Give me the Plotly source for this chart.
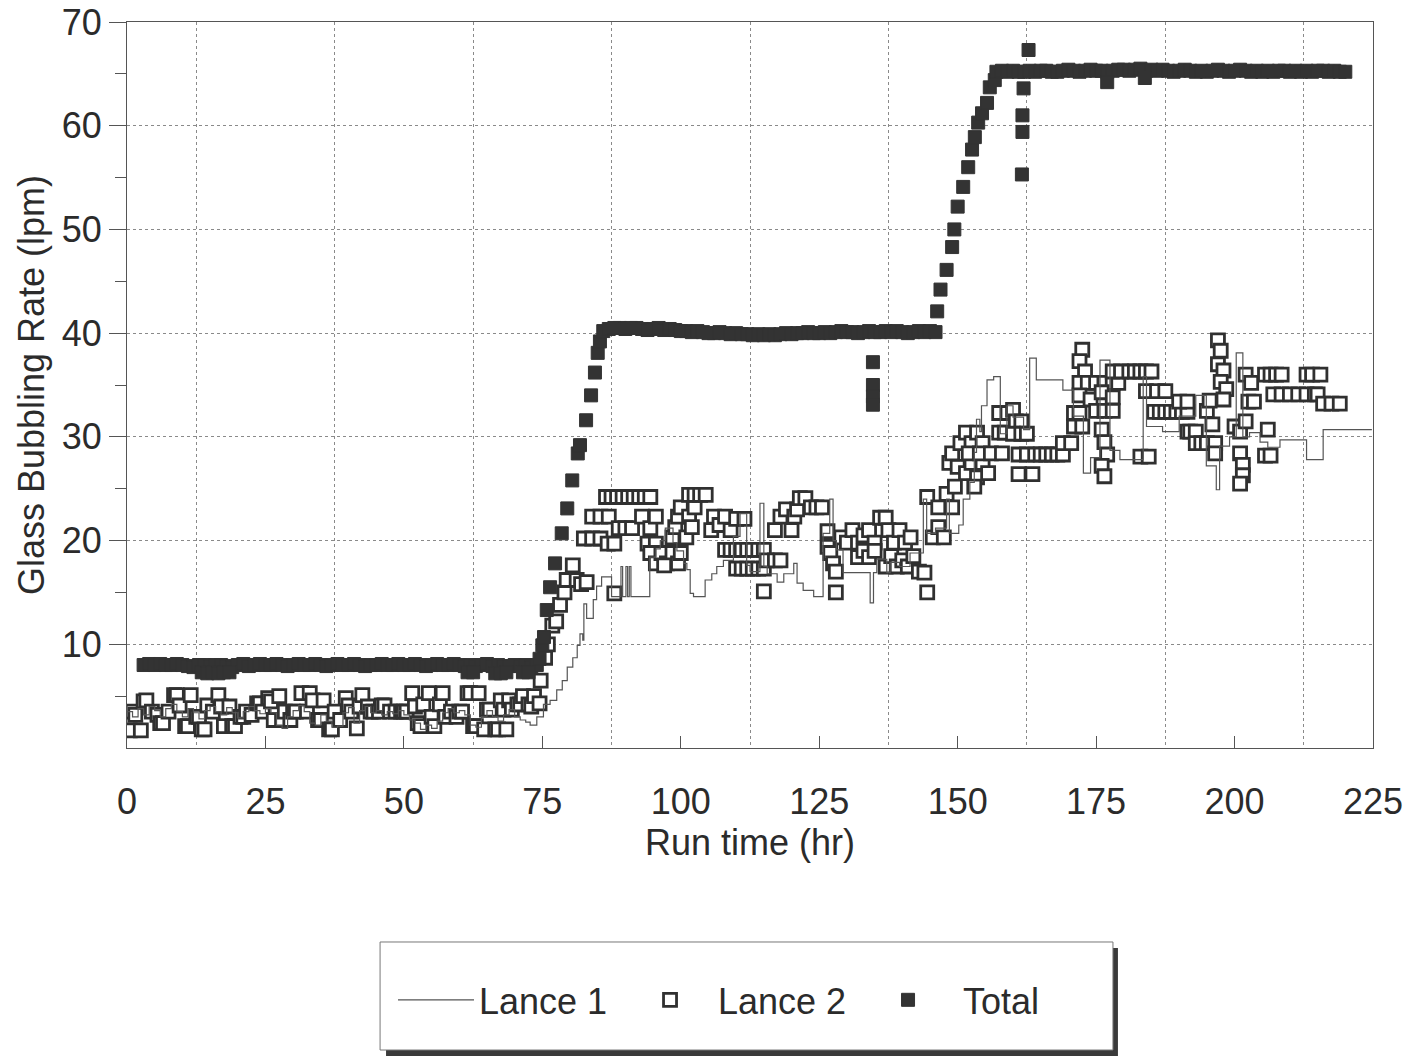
import plotly.graph_objects as go

# ---------------- DATA ----------------
# Total (filled squares)
total_time = [
    3, 4, 5, 6, 7, 8, 9, 10, 11, 12, 13, 14, 15, 16, 17, 18, 19, 20, 21, 22,
    23, 24, 25, 26, 27, 28, 29, 30, 31, 32, 33, 34, 35, 36, 37, 38, 39, 40, 41, 42,
    43, 44, 45, 46, 47, 48, 49, 50, 51, 52, 53, 54, 55, 56, 57, 58, 59, 60, 61, 62,
    63, 64, 65, 66, 67, 68, 69, 70, 71, 72, 73, 74,
    13.5, 14.5, 15.5, 16.5, 17.5, 18.5, 61.5, 62.5, 66.5, 67.5, 68.5, 71.5, 72.5,
    74.5, 75.0, 75.3, 75.8, 76.4, 77.3, 78.5, 79.5, 80.4, 81.4, 81.8, 82.9, 83.8, 84.5, 85.0, 85.4,
    86, 87, 88, 89, 90, 91, 92, 93, 94, 95, 96, 97, 98, 99, 100, 101, 102, 103, 104, 105,
    106, 107, 108, 109, 110, 111, 112, 113, 114, 115, 116, 117, 118, 119, 120, 121, 122, 123, 124, 125,
    126, 127, 128, 129, 130, 131, 132, 133, 134, 135, 136, 137, 138, 139, 140, 141, 142, 143, 144, 145, 146,
    134.7, 134.7, 134.7, 134.7,
    146.3, 146.9, 148.0, 149.0, 149.4, 150.0, 151.0, 151.9, 152.6, 153.1, 153.7, 154.4, 155.3, 155.8, 156.7,
    157, 158, 159, 160, 161, 162, 163, 164, 165, 166, 167, 168, 169, 170, 171, 172, 173, 174, 175, 176,
    177, 178, 179, 180, 181, 182, 183, 184, 185, 186, 187, 188, 189, 190, 191, 192, 193, 194, 195, 196,
    197, 198, 199, 200, 201, 202, 203, 204, 205, 206, 207, 208, 209, 210, 211, 212, 213, 214, 215, 216,
    217, 218, 219, 220,
    161.9, 162.8, 161.7, 161.7, 161.6, 177.0, 183.8,
]
total_rate = [
    8.0, 8.1, 8.0, 8.1, 8.0, 8.0, 8.1, 8.0, 7.9, 7.8, 8.0, 8.0, 7.9, 8.0, 8.0, 7.9, 7.8, 8.0, 8.1, 7.9,
    8.0, 8.1, 8.0, 8.0, 8.1, 8.0, 7.9, 8.0, 8.1, 8.0, 8.0, 8.1, 8.0, 7.9, 8.0, 8.1, 8.0, 8.0, 8.1, 8.0,
    7.9, 8.0, 8.0, 8.1, 8.0, 8.0, 8.1, 8.0, 8.0, 8.1, 8.0, 7.9, 8.0, 8.1, 8.0, 8.0, 8.1, 8.0, 7.9, 8.0,
    7.9, 8.0, 8.1, 7.9, 8.0, 7.9, 7.9, 8.0, 7.9, 8.0, 7.8, 8.0,
    7.3, 7.2, 7.3, 7.2, 7.3, 7.3, 7.3, 7.3, 7.2, 7.2, 7.3, 7.3, 7.3,
    8.6, 9.9, 10.7, 13.3, 15.5, 17.8, 20.7, 23.1, 25.8, 28.4, 29.2, 31.6, 34.0, 36.2, 38.1, 39.2,
    40.2, 40.4, 40.5, 40.5, 40.4, 40.5, 40.5, 40.4, 40.3, 40.4, 40.5, 40.3, 40.4, 40.3, 40.2, 40.2, 40.1, 40.2, 40.1, 40.0,
    40.0, 40.1, 40.0, 39.9, 40.0, 39.9, 39.9, 39.8, 39.9, 39.8, 39.9, 39.8, 39.9, 40.0, 39.9, 40.0, 40.0, 40.1, 40.0, 40.0,
    40.1, 40.0, 40.1, 40.2, 40.1, 40.1, 40.0, 40.1, 40.2, 40.1, 40.1, 40.2, 40.1, 40.2, 40.1, 40.0, 40.1, 40.2, 40.1, 40.2, 40.1,
    37.2, 35.0, 33.9, 33.1,
    42.1, 44.2, 46.1, 48.3, 50.0, 52.2, 54.1, 56.0, 57.7, 58.9, 60.3, 61.2, 62.2, 63.7, 64.4,
    65.2, 65.3, 65.2, 65.3, 65.2, 65.2, 65.3, 65.2, 65.3, 65.3, 65.2, 65.2, 65.3, 65.4, 65.3, 65.2, 65.3, 65.4, 65.3, 65.3,
    65.2, 65.3, 65.4, 65.4, 65.3, 65.4, 65.5, 65.3, 65.4, 65.3, 65.4, 65.3, 65.2, 65.3, 65.4, 65.3, 65.2, 65.3, 65.2, 65.3,
    65.4, 65.3, 65.2, 65.3, 65.4, 65.3, 65.2, 65.3, 65.2, 65.3, 65.2, 65.3, 65.3, 65.2, 65.3, 65.2, 65.3, 65.2, 65.3, 65.3,
    65.2, 65.3, 65.2, 65.2,
    63.6, 67.3, 61.0, 59.4, 55.3, 64.2, 64.6,
]

# Lance 2 (open squares)
lance2_time = [
    0.5, 1.0, 1.5, 2.5, 3.0, 3.5, 4.5, 5.5, 6.0, 6.5, 7.5, 8.5, 9.0, 9.5, 10.5, 11.0, 11.5, 12.5, 13.0, 13.5,
    14.0, 14.5, 15.5, 16.5, 17.0, 17.5, 18.5, 19.0, 19.5, 20.5, 21.0, 21.5, 22.5, 23.5, 24.0, 24.5, 25.5, 26.0, 26.5, 27.5,
    28.0, 28.5, 29.5, 30.0, 30.5, 31.5, 32.5, 33.0, 33.5, 34.5, 35.0, 35.5, 36.5, 37.0, 37.5, 38.5, 39.5, 40.0, 40.5, 41.5,
    42.0, 42.5, 43.5, 44.0, 44.5, 45.5, 46.0, 46.5, 47.5, 48.5, 49.5, 50.0, 50.5, 51.5, 52.0, 52.5, 53.0, 53.5, 54.5, 55.0,
    55.5, 56.5, 57.0, 57.5, 58.5, 59.5, 60.0, 60.5, 61.5, 62.0, 62.5, 63.0, 63.5, 64.5, 65.0, 65.5, 66.5, 67.0, 67.5, 68.0,
    68.5, 69.0, 69.5, 70.5, 71.0, 71.5, 72.5, 73.0, 73.5, 74.5,
    74.7, 75.5, 76.0, 76.8, 77.5, 78.2, 79.0, 79.4, 80.5, 81.2, 82.0, 83.0, 82.5, 84.0, 85.5, 84.0, 85.5, 87.0, 86.8, 88.0, 88.0,
    86.5, 87.5, 88.5, 89.5, 90.5, 91.5, 92.5, 93.5, 94.5,
    88.8, 90.0, 91.2, 93.0, 94.5, 95.5, 94.0, 95.5,
    94.5, 95.5, 96.5, 97.5, 98.5, 99.5, 97.0, 100.0,
    98.5, 99.0, 99.5, 100.0, 101.0, 101.5, 102.0, 102.5,
    101.5, 102.5, 103.5, 104.5,
    105.5, 106.0, 107.0, 108.0, 109.0, 110.0, 111.5,
    108.0, 109.0, 110.0, 111.0, 112.0, 113.0, 114.0, 115.0,
    110.0, 111.0, 112.0, 113.0, 114.0, 115.0,
    115.0, 115.5, 117.0, 118.0,
    117.0, 118.0, 119.0, 120.0, 120.5, 121.0,
    121.5, 122.5, 123.5, 124.5, 125.5, 126.5, 126.5, 127.0, 127.5, 128.0, 128.0,
    129.0, 130.0, 131.0, 132.0, 133.0, 134.0, 135.0, 136.0, 137.0, 137.5, 138.5, 139.5, 140.5, 141.5,
    132.0, 133.0, 134.0, 135.0,
    137.0, 138.0, 139.0, 140.0, 141.0, 142.0, 143.0, 144.0, 144.5,
    144.5, 145.5, 146.5, 147.5,
    146.5, 148.0, 149.0, 149.5, 148.5, 150.0,
    149.0, 150.5, 151.5, 152.5, 153.5, 154.5,
    151.5, 152.5, 153.5, 154.5, 155.5, 153.0,
    152.0, 154.0, 156.0, 158.0,
    157.5, 158.5, 157.5, 159.0,
    160.0, 160.5, 161.5, 160.0, 161.5, 162.5,
    161.0, 162.5, 164.0, 165.0, 166.0, 167.0, 168.0, 169.0,
    161.0, 163.5, 169.0, 170.5,
    171.0, 172.0, 171.0, 172.5,
    172.5, 172.0, 173.0,
    172.0, 173.5, 175.0, 176.5, 178.0, 179.0,
    172.0, 174.0, 176.0, 178.0,
    175.0, 176.5, 178.0,
    176.0, 176.5, 177.0, 176.0, 176.5,
    178.0, 179.5, 181.0, 182.0, 183.0, 184.0, 185.0,
    184.0, 186.0, 187.5,
    183.0, 184.5,
    185.5, 186.5, 187.5, 188.5, 189.5, 190.5, 191.5,
    190.0, 191.5, 191.5,
    192.0, 193.0, 193.0, 194.0, 195.0, 196.5,
    195.0, 195.5, 196.0, 196.5,
    197.0, 197.5, 197.0, 198.0, 197.5, 198.5, 198.0,
    200.0, 201.0, 202.0,
    201.0, 201.5, 201.5, 201.0,
    202.0, 203.0, 202.5, 203.5,
    205.5, 206.5, 207.5, 208.5,
    207.0, 208.5, 210.0, 211.5, 213.0, 214.5,
    206.0, 205.5, 206.5,
    213.0, 214.0, 215.5, 215.0,
    216.0, 217.5, 219.0,
]
lance2_rate = [
    1.7, 3.5, 3.2, 1.7, 4.5, 4.6, 3.5, 3.2, 2.4, 2.4, 3.5, 5.1, 5.1, 4.1, 2.1, 2.1, 5.1, 3.0, 3.0, 1.8,
    1.8, 4.1, 3.5, 5.1, 4.0, 2.1, 4.0, 2.1, 2.1, 3.0, 3.0, 3.5, 3.2, 4.3, 4.3, 3.5, 4.8, 4.5, 2.7, 5.0,
    2.7, 3.5, 2.7, 3.5, 3.5, 5.3, 3.5, 5.3, 4.6, 2.7, 2.7, 4.6, 1.8, 1.8, 3.5, 2.7, 4.8, 4.1, 3.5, 1.9,
    4.0, 5.1, 4.0, 3.5, 3.5, 3.5, 4.1, 4.1, 3.5, 3.5, 3.5, 3.5, 3.5, 5.3, 4.0, 2.4, 2.1, 4.2, 5.3, 3.0,
    2.1, 4.2, 5.3, 3.0, 3.5, 3.0, 3.5, 3.5, 5.3, 5.3, 2.1, 2.1, 5.3, 1.8, 3.7, 3.7, 1.8, 1.8, 4.6, 3.7,
    1.8, 4.6, 3.7, 4.2, 4.2, 5.0, 4.2, 4.0, 5.0, 4.3,
    6.5, 8.7, 10.0, 11.8, 12.2, 13.8, 15.0, 16.2, 17.6, 16.2, 15.8, 16.0, 20.2, 20.2, 20.2, 22.3, 22.3, 22.3, 19.7, 19.7, 14.9,
    24.2, 24.2, 24.2, 24.2, 24.2, 24.2, 24.2, 24.2, 24.2,
    21.2, 21.2, 21.2, 22.3, 21.2, 22.3, 19.7, 19.7,
    18.8, 17.8, 18.8, 17.8, 18.8, 17.8, 17.6, 18.8,
    20.3, 21.3, 22.3, 23.2, 20.3, 22.3, 21.3, 23.2,
    24.4, 24.4, 24.4, 24.4,
    21.0, 22.3, 21.5, 22.3, 21.0, 22.1, 22.1,
    19.1, 19.1, 19.1, 19.1, 19.1, 19.1, 19.1, 19.1,
    17.3, 17.3, 17.3, 17.3, 17.3, 17.3,
    15.1, 18.1, 18.1, 18.1,
    21.0, 22.3, 23.0, 21.0, 22.3, 23.0,
    24.1, 24.1, 23.2, 23.2, 23.2, 20.9, 19.4, 18.8, 17.8, 17.0, 15.0,
    20.3, 19.8, 21.0, 19.8, 20.5, 21.0, 19.8, 22.2, 22.2, 21.0, 19.8, 21.0, 19.8, 20.3,
    18.4, 19.0, 18.4, 19.0,
    17.5, 18.5, 17.5, 18.1, 17.5, 18.5, 17.0, 16.9, 15.0,
    24.2, 20.3, 21.3, 20.3,
    23.2, 24.5, 23.2, 25.2, 27.5, 27.1,
    28.4, 29.4, 30.4, 29.4, 30.4, 29.4,
    26.5, 27.5, 26.1, 27.5, 26.5, 25.2,
    28.4, 28.4, 28.4, 28.4,
    30.4, 30.4, 32.3, 32.3,
    32.6, 31.5, 31.5, 30.3, 30.3, 30.3,
    28.3, 28.3, 28.3, 28.3, 28.3, 28.3, 28.3, 28.3,
    26.4, 26.4, 29.4, 29.4,
    32.3, 32.3, 31.0, 31.0,
    38.4, 37.3, 36.3,
    35.2, 35.2, 35.2, 35.2, 35.2, 35.2,
    34.0, 33.6, 34.3, 33.8,
    32.5, 32.5, 32.5,
    30.7, 29.5, 28.3, 27.2, 26.2,
    36.3, 36.3, 36.3, 36.3, 36.3, 36.3, 36.3,
    34.4, 34.4, 34.4,
    28.1, 28.1,
    32.4, 32.4, 32.4, 32.4, 32.4, 32.4, 32.4,
    33.4, 33.4, 30.5,
    30.5, 30.5, 29.4, 29.4, 29.4, 29.4,
    32.5, 33.5, 31.2, 28.4,
    39.3, 38.3, 37.0, 36.4, 35.3, 34.6, 33.6,
    31.0, 30.5, 31.5,
    28.4, 27.3, 26.3, 25.5,
    36.0, 35.2, 33.4, 33.4,
    36.0, 36.0, 36.0, 36.0,
    34.1, 34.1, 34.1, 34.1, 34.1, 34.1,
    30.7, 28.2, 28.2,
    36.0, 36.0, 36.0, 34.1,
    33.2, 33.2, 33.2,
]

# Lance 1 (thin stepped line)
lance1_time = [
    0, 1, 2, 3, 4, 5, 6, 7, 8, 9, 10, 11, 12, 13, 14, 15, 16, 17, 18, 19,
    20, 21, 22, 23, 24, 25, 26, 27, 28, 29, 30, 31, 32, 33, 34, 35, 36, 37, 38, 39,
    40, 41, 42, 43, 44, 45, 46, 47, 48, 49, 50, 51, 52, 53, 54, 55, 56, 57, 58, 59,
    60, 61, 62, 63, 64, 65, 66, 67, 68, 69, 70, 71,
    72.0, 72.8, 74.0, 75.2, 76.4, 77.6, 78.6, 79.5, 80.5, 81.3, 81.8, 82.3, 82.5, 83.0, 84.2, 84.8, 85.7,
    87.5, 89.2, 89.5, 90.1, 90.4, 90.7, 91.0, 94.4, 95.5, 96.3, 97.2, 98.6, 99.3, 100.5, 101.1, 101.7, 102.3,
    104.4, 105.6, 106.5, 107.7, 109.5, 110.7, 111.9, 112.5, 114.3, 115.0, 115.6, 117.4, 118.6, 120.4, 121.0,
    122.1, 124.0, 125.7, 126.9, 127.5, 128.1, 129.3, 134.2, 134.8, 135.4, 137.2, 137.8, 139.5, 141.4, 143.8,
    144.4, 146.0, 148.0, 148.5, 150.2, 151.0, 152.2, 153.0, 153.4, 154.0, 154.3, 155.3, 156.5, 157.7, 158.9,
    160.0, 161.9, 163.0, 164.2, 169.0, 170.9, 172.7, 174.0, 175.7, 177.5, 179.3, 183.5, 184.1, 187.0, 190.0,
    193.0, 194.9, 196.7, 197.3, 199.1, 200.3, 201.5, 202.7, 204.6, 206.0, 208.2, 213.0, 216.0, 224.8,
]
lance1_rate = [
    3.5, 3.0, 3.8, 3.2, 4.0, 3.6, 3.0, 3.8, 4.2, 3.5, 3.0, 3.8, 3.4, 2.8, 3.6, 4.0, 3.5, 3.2, 3.9, 3.4,
    2.9, 3.5, 4.0, 3.6, 3.3, 3.8, 3.4, 2.2, 1.9, 3.0, 3.6, 4.1, 3.5, 2.4, 2.2, 3.2, 2.6, 2.0, 2.1, 3.4,
    3.9, 2.4, 3.6, 4.0, 3.4, 3.6, 3.2, 3.5, 3.3, 3.6, 3.2, 2.7, 2.4, 1.8, 2.2, 1.9, 2.6, 3.4, 3.8, 3.4,
    3.6, 3.2, 2.2, 2.0, 3.0, 3.6, 3.0, 2.6, 3.2, 3.7, 3.0, 2.7,
    2.5, 2.2, 3.0, 4.2, 4.6, 5.6, 6.5, 7.8, 8.7, 9.9, 11.0, 10.4, 13.9, 12.5, 14.3, 15.6, 16.5,
    14.6, 17.5, 14.6, 17.5, 14.6, 17.5, 14.6, 18.4, 19.2, 20.0, 21.2, 19.8, 19.0, 17.8, 17.2, 14.9, 14.6,
    16.2, 16.8, 17.5, 18.1, 20.4, 22.6, 17.6, 17.0, 23.6, 17.5, 16.8, 16.0, 16.8, 17.8, 15.9,
    15.2, 14.6, 20.7, 24.0, 20.0, 19.1, 16.9, 14.0, 16.9, 18.2, 16.9, 17.9, 17.5, 18.8, 24.0,
    20.7, 21.2, 24.0, 20.7, 21.5, 24.0, 25.6, 28.5, 31.7, 30.5, 33.0, 35.5, 35.8, 30.3, 33.0,
    31.9, 30.7, 37.6, 35.5, 34.5, 32.0, 26.5, 28.0, 37.4, 28.7, 27.8, 35.8, 31.0, 30.5, 32.0,
    34.0, 27.2, 24.9, 29.1, 30.0, 38.1, 30.0, 30.4, 29.5, 29.0, 29.7, 27.8, 30.7, 30.7,
]

x_tick_values = [0, 25, 50, 75, 100, 125, 150, 175, 200, 225]
y_tick_values = [10, 20, 30, 40, 50, 60, 70]
y_minor_values = [5, 15, 25, 35, 45, 55, 65]

# ---------------- FIGURE ----------------
FONT = "Liberation Sans, Arial, Helvetica, sans-serif"
INK = "#2b2b2b"
GRID = "#8a8a8a"

fig = go.Figure()

fig.add_trace(go.Scatter(
    x=lance2_time, y=lance2_rate, mode="markers", name="Lance 2", legend="legend2",
    marker=dict(symbol="square", size=13, color="white", line=dict(color="#303030", width=2.8)),
))
fig.add_trace(go.Scatter(
    x=total_time, y=total_rate, mode="markers", name="Total", legend="legend3",
    marker=dict(symbol="square", size=13, color="#333333", line=dict(color="#333333", width=1)),
))
fig.add_trace(go.Scatter(
    x=lance1_time, y=lance1_rate, mode="lines", name="Lance 1", legend="legend",
    line=dict(color="#555555", width=1.2, shape="hv"),
))

# legend frame with drop shadow (paper coordinates)
fig.add_shape(type="rect", xref="paper", yref="paper", x0=0.2079, x1=0.7953, y0=-0.4242, y1=-0.2755,
              fillcolor="#3a3a3a", line=dict(width=0))
fig.add_shape(type="rect", xref="paper", yref="paper", x0=0.2031, x1=0.7913, y0=-0.4160, y1=-0.2672,
              fillcolor="white", line=dict(color="#777777", width=1))

legend_common = dict(orientation="h", xanchor="left", y=-0.347, yanchor="middle",
                     bgcolor="rgba(0,0,0,0)", borderwidth=0, font=dict(size=36, color=INK))

fig.update_layout(
    width=1412, height=1059,
    margin=dict(l=127, r=39, t=22, b=311, autoexpand=False),
    paper_bgcolor="white", plot_bgcolor="white",
    font=dict(family=FONT, size=36, color=INK),
    showlegend=True,
    legend=dict(x=0.2135, itemwidth=76, **legend_common),
    legend2=dict(x=0.3973, itemwidth=86, **legend_common),
    legend3=dict(x=0.5827, itemwidth=100, **legend_common),
    xaxis=dict(
        range=[0, 225], tickmode="array", tickvals=x_tick_values,
        ticks="inside", ticklen=12, tickcolor="#555555",
        ticklabelstandoff=22, automargin=False,
        showgrid=False, zeroline=False,
        minor=dict(tick0=12.5, dtick=25, showgrid=True, gridcolor=GRID, griddash="dot", gridwidth=1, ticks=""),
        showline=True, linecolor="#555555", linewidth=1.2, mirror=True,
        title=dict(text="Run time (hr)", standoff=4, font=dict(size=36)),
        tickfont=dict(size=36),
    ),
    yaxis=dict(
        range=[0, 70], tickmode="array", tickvals=y_tick_values,
        ticks="outside", ticklen=17, tickcolor="#555555", automargin=False,
        showgrid=True, gridcolor=GRID, griddash="dot", gridwidth=1, zeroline=False,
        minor=dict(tickmode="array", tickvals=y_minor_values, ticks="outside", ticklen=11,
                   tickcolor="#555555", showgrid=False),
        showline=True, linecolor="#555555", linewidth=1.2, mirror=True,
        title=dict(text="Glass Bubbling Rate (lpm)", standoff=6, font=dict(size=36)),
        tickfont=dict(size=36),
    ),
)

fig.write_html("out.html", config={"displayModeBar": False},
               post_script="document.body.style.margin='0';")
